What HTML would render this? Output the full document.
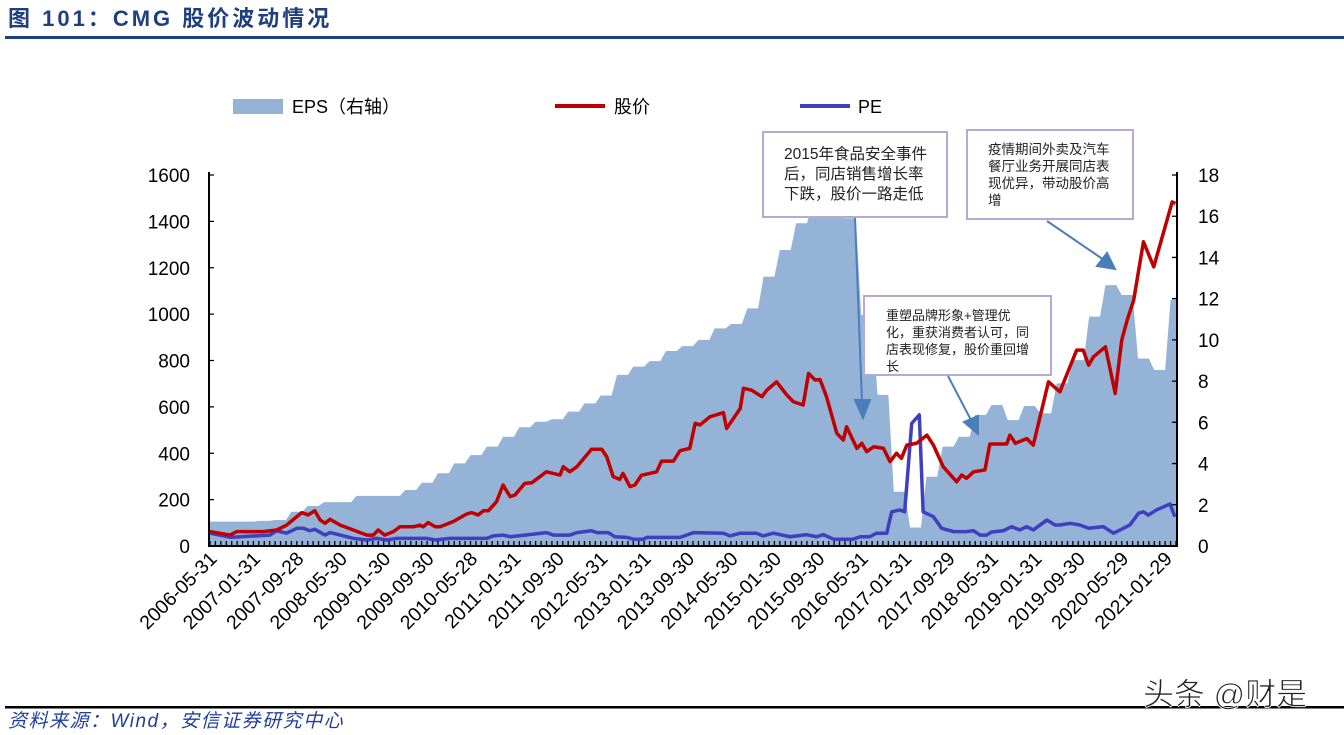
<!DOCTYPE html>
<html><head><meta charset="utf-8"><style>
body{margin:0;background:#fff;}
svg{display:block;font-family:"Liberation Sans","Noto Sans CJK SC",sans-serif;}
</style></head><body>
<svg id="chart" width="1344" height="735" viewBox="0 0 1344 735" xmlns="http://www.w3.org/2000/svg">
<text x="8" y="26" font-size="22" font-weight="bold" letter-spacing="3" fill="#1f3f7f">图 101：CMG 股价波动情况</text>
<rect x="5" y="36" width="1339" height="3" fill="#1f3f7f"/>
<g id="legend">
<rect x="233" y="99" width="50" height="15" fill="#95b3d7"/>
<text x="292" y="113" font-size="18">EPS（右轴）</text>
<line x1="555" y1="106" x2="605" y2="106" stroke="#c00000" stroke-width="4"/>
<text x="614" y="113" font-size="18">股价</text>
<line x1="800" y1="106" x2="850" y2="106" stroke="#3f3fbf" stroke-width="4"/>
<text x="858" y="113" font-size="18">PE</text>
</g>
<g id="plot"></g>
<g id="annot">
<rect x="763" y="132" width="184" height="85" fill="#fff" stroke="#b7a9d4" stroke-width="2"/>
<text font-size="15.5" fill="#222"><tspan x="784" y="159">2015年食品安全事件</tspan><tspan x="784" y="179">后，同店销售增长率</tspan><tspan x="784" y="199">下跌，股价一路走低</tspan></text>
<rect x="967" y="130" width="166" height="89" fill="#fff" stroke="#b7a9d4" stroke-width="2"/>
<text font-size="13.5" fill="#222"><tspan x="988" y="154">疫情期间外卖及汽车</tspan><tspan x="988" y="171">餐厅业务开展同店表</tspan><tspan x="988" y="188">现优异，带动股价高</tspan><tspan x="988" y="205">增</tspan></text>
<rect x="864" y="296" width="187" height="79" fill="#fff" stroke="#b7a9d4" stroke-width="2"/>
<text font-size="13" fill="#222"><tspan x="886" y="320">重塑品牌形象+管理优</tspan><tspan x="886" y="337">化，重获消费者认可，同</tspan><tspan x="886" y="354">店表现修复，股价重回增</tspan><tspan x="886" y="371">长</tspan></text>
<g stroke="#4a7ebb" stroke-width="2" fill="#4a7ebb">
<line x1="855" y1="218" x2="862" y2="402"/>
<polygon points="855,400 870,400 863,418"/>
<line x1="948" y1="376" x2="972" y2="422"/>
<polygon points="964,422 978,416 978,434"/>
<line x1="1047" y1="221" x2="1104" y2="260"/>
<polygon points="1097,266 1107,253 1115,269"/>
</g>
</g>
<rect x="5" y="706" width="1339" height="2.5" fill="#000"/>
<text x="8" y="727" font-size="19" font-style="italic" letter-spacing="1.5" fill="#1f3f9f">资料来源：Wind，安信证券研究中心</text>
<text x="1143" y="705" font-size="31" fill="#222" stroke="#fff" stroke-width="0.8">头条 @财是</text>
</svg>
<script>
const priceMonths=[0,3.7,4.9,9.8,12.3,14.1,16.9,18.1,19.3,20.3,21.2,22.1,24,26.4,28.9,30.1,31,32.2,33.8,35,37.5,38.7,39.3,40.2,41.5,42.4,44.8,47.3,48.2,49.4,50.4,51.3,52.8,54,55.3,56.2,58,59.3,62,64.5,65.1,66.3,67.6,70.3,72.2,73.1,74.3,75.5,76.1,77.4,78.3,79.5,82.3,83.2,85.4,86.6,88.4,89.4,90.3,92.1,94.6,95.2,97.7,98.3,99.8,101.7,102.6,104.4,106.3,107.5,109.3,110.3,111.5,112.4,113.6,115.5,116.7,117.3,119.2,120.1,121,122.3,124.1,125.3,126.5,127.4,128.4,130.2,132.1,133.3,135.1,137.6,138.5,139.4,140.7,142.8,143.7,144.7,146.8,147.4,148.4,150.5,151.7,154.5,156.6,159.7,160.9,161.9,162.8,165,166.8,168,169,170.2,172,173.9,177.3,177.9];
const priceVals=[62,47,62,62,69,90,144,134,152,112,98,115,90,69,47,47,69,47,62,83,83,90,83,101,83,83,105,138,144,134,152,152,191,263,213,220,270,273,320,306,342,320,342,417,417,385,299,287,313,256,263,305,320,366,366,411,421,529,522,557,575,507,593,680,672,644,672,708,651,622,608,744,716,718,644,486,457,514,421,443,407,428,421,364,400,378,435,443,478,435,342,277,306,292,320,328,440,440,440,478,443,463,435,708,665,845,845,780,816,859,658,888,974,1060,1312,1204,1484,1477];
const peMonths=[0,3.7,11,12.3,14.1,16,17.2,18.4,19.3,21.2,22.1,24,26.4,28.9,30.7,32.6,34.4,39.9,41.5,44.2,51,52.2,54,55.3,58,62,63.3,66.3,67.6,70.3,71.3,73.4,74.6,76.8,78,79.9,80.5,86.6,89.1,94.6,95.8,97.7,100.7,101.9,103.8,106.9,109.9,111.8,113,114.9,118.5,119.8,121.6,122.8,124.7,125.6,127.1,128,129.3,130.7,131.4,133.3,134.8,137,139.4,140.7,141.9,143.1,144,146.2,147.7,149.2,150.5,151.7,154.2,155.7,156.6,158.5,160.3,161.9,164.6,166.5,168.3,169.5,171.1,172,172.9,174.4,176.9,177.8];
const peVals=[0.62,0.42,0.53,0.74,0.62,0.86,0.86,0.74,0.81,0.53,0.65,0.53,0.37,0.29,0.37,0.29,0.37,0.37,0.29,0.37,0.37,0.49,0.53,0.45,0.53,0.65,0.53,0.53,0.65,0.74,0.65,0.65,0.45,0.42,0.33,0.33,0.42,0.42,0.65,0.62,0.49,0.62,0.62,0.49,0.62,0.45,0.55,0.45,0.55,0.33,0.33,0.45,0.45,0.62,0.62,1.66,1.75,1.66,5.95,6.36,1.66,1.42,0.86,0.7,0.7,0.74,0.53,0.53,0.68,0.74,0.94,0.78,0.94,0.78,1.26,1.02,1.02,1.1,1.02,0.86,0.94,0.62,0.86,1.02,1.59,1.66,1.5,1.75,2.04,1.42];
const epsQuarterly=[1.18,1.18,1.18,1.22,1.26,1.66,1.94,2.13,2.13,2.43,2.43,2.43,2.72,3.07,3.53,4.01,4.41,4.82,5.3,5.76,6.03,6.15,6.52,6.92,7.3,8.3,8.7,8.97,9.46,9.7,10.0,10.56,10.77,11.53,13.07,14.36,15.66,16.55,16.95,15.9,11.2,7.33,2.63,0.9,3.36,4.82,5.3,6.36,6.84,6.11,6.79,6.44,7.89,9.02,11.13,12.66,12.18,9.1,8.54,11.94];
const leftTicks=[0,200,400,600,800,1000,1200,1400,1600];
const rightTicks=[0,2,4,6,8,10,12,14,16,18];
const xLabels=["2006-05-31","2007-01-31","2007-09-28","2008-05-30","2009-01-30","2009-09-30","2010-05-28","2011-01-31","2011-09-30","2012-05-31","2013-01-31","2013-09-30","2014-05-30","2015-01-30","2015-09-30","2016-05-31","2017-01-31","2017-09-29","2018-05-31","2019-01-31","2019-09-30","2020-05-29","2021-01-29"];
const NS="http://www.w3.org/2000/svg";
const X0=210,X1=1176,Y0=546,Y1=175,MMAX=178;
const xs=m=>X0+m*(X1-X0)/MMAX;
const yL=v=>Y0-v*(Y0-Y1)/1600;
const yR=v=>Y0-v*(Y0-Y1)/18;
const plot=document.getElementById('plot');
function mk(tag,attrs){const e=document.createElementNS(NS,tag);for(const k in attrs)e.setAttribute(k,attrs[k]);plot.appendChild(e);return e;}
let pts=[[xs(0),Y0]];
epsQuarterly.forEach((v,q)=>{const a=Math.min(3*q,MMAX),b=Math.min(3*q+2,MMAX);pts.push([xs(a),yR(v)]);pts.push([xs(b),yR(v)]);});
pts.push([xs(MMAX),pts[pts.length-1][1]]);pts.push([xs(MMAX),Y0]);
const area=mk('polygon',{points:pts.map(p=>p.join(',')).join(' '),fill:'#95b3d7'});


const pl=mk('polyline',{points:peMonths.map((m,i)=>xs(m)+','+yR(peVals[i])).join(' '),fill:'none',stroke:'#3f3fbf','stroke-width':3.5,'stroke-linejoin':'round'});


const rl=mk('polyline',{points:priceMonths.map((m,i)=>xs(m)+','+yL(priceVals[i])).join(' '),fill:'none',stroke:'#c00000','stroke-width':3.5,'stroke-linejoin':'round'});


const ax=mk('path',{d:`M${X0-1},${Y1-3}V${Y0}H${X1+1}V${Y1-3}`,fill:'none',stroke:'#000','stroke-width':2});


let d='';for(let m=0;m<=MMAX;m++){d+=`M${xs(m)},${Y0}v-5`;}
leftTicks.forEach(v=>{d+=`M${X0-1},${yL(v)}h5`;});
rightTicks.forEach(v=>{d+=`M${X1+1},${yR(v)}h-5`;});
const tk=mk('path',{d:d,stroke:'#000','stroke-width':1.3,fill:'none'});


leftTicks.forEach(v=>{const t=mk('text',{x:190,y:yL(v)+7,'font-size':19,'text-anchor':'end'});t.textContent=v;

});
rightTicks.forEach(v=>{const t=mk('text',{x:1198,y:yR(v)+7,'font-size':19});t.textContent=v;

});
xLabels.forEach((s,i)=>{const x=xs(i*8)+8,y=560;const t=mk('text',{x:x,y:y,'font-size':19.5,'text-anchor':'end',transform:`rotate(-45 ${x} ${y})`});t.textContent=s;

});
</script>
</body></html>
